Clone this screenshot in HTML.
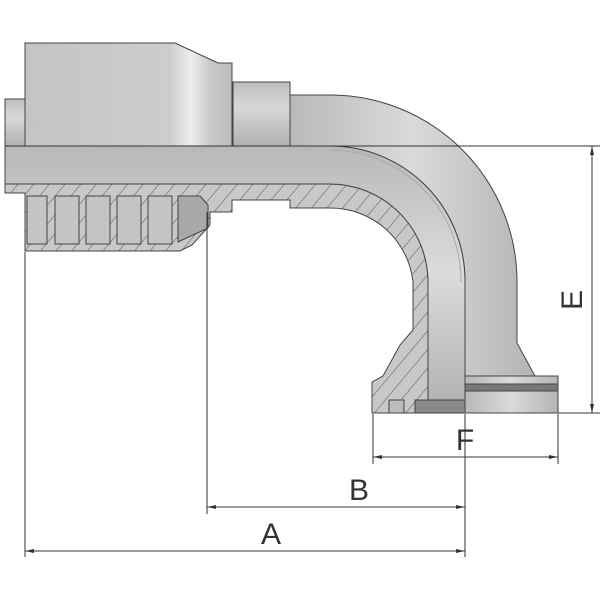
<!DOCTYPE html>
<html><head><meta charset="utf-8"><style>html,body{margin:0;padding:0;background:#fff}svg{display:block}</style></head>
<body>
<svg width="600" height="600" viewBox="0 0 600 600" xmlns="http://www.w3.org/2000/svg">
<defs>
<linearGradient id="gv" x1="0" y1="0" x2="0" y2="1">
<stop offset="0" stop-color="#bdbdbd"/><stop offset="0.4" stop-color="#d8d8d8"/><stop offset="1" stop-color="#b0b0b0"/></linearGradient>
<linearGradient id="gh" x1="0" y1="0" x2="1" y2="0">
<stop offset="0" stop-color="#c4c4c4"/><stop offset="0.7" stop-color="#cdcdcd"/><stop offset="0.8" stop-color="#eeeeee"/><stop offset="0.9" stop-color="#c8c8c8"/><stop offset="1" stop-color="#bcbcbc"/></linearGradient>
<linearGradient id="gb" x1="0" y1="0" x2="0" y2="1">
<stop offset="0" stop-color="#b8b8b8"/><stop offset="0.5" stop-color="#dcdcdc"/><stop offset="1" stop-color="#b4b4b4"/></linearGradient>
<linearGradient id="gx" x1="0" y1="0" x2="1" y2="0">
<stop offset="0" stop-color="#b8b8b8"/><stop offset="0.5" stop-color="#dadada"/><stop offset="1" stop-color="#b4b4b4"/></linearGradient>
<pattern id="hatch" width="12" height="12" patternUnits="userSpaceOnUse" patternTransform="rotate(40)">
<rect width="12" height="12" fill="#c8c8c8"/><line x1="0" y1="0" x2="0" y2="12" stroke="#555" stroke-width="1"/></pattern>
</defs>
<g stroke="#444" stroke-width="1">
<!-- elbow upper/outer -->
<path d="M288,95 L330,95 A187,187 0 0 1 517,282 L517,343 L535,376 L465,376 L465,282 A135,135 0 0 0 330,146 L288,146 Z" fill="url(#gx)"/>
<!-- left nut -->
<rect x="5" y="99" width="20" height="47" fill="url(#gv)"/>
<!-- ferrule -->
<path d="M25,43 L175,43 L218,63 L232,63 L232,146 L25,146 Z" fill="url(#gh)"/>
<rect x="233" y="82" width="57" height="64" fill="url(#gv)"/>
<!-- hatched walls -->
<path d="M5,184 L330,184 A98,98 0 0 1 428,282 L428,413 L372,413 L372,382 L383,376 L400,345 L413,330 L413,282 A83,83 0 0 0 330,208 L290,208 L290,200 L232,200 L232,212 L210,212 L210,225 L192,245 L180,251 L25,251 L25,193 L5,193 Z" fill="url(#hatch)"/>
<!-- bore -->
<path d="M5,146 L330,146 A135,135 0 0 1 465,282 L465,400 L428,400 L428,282 A98,98 0 0 0 330,184 L5,184 Z" fill="url(#gb)"/>
<path d="M330,150 A131,131 0 0 1 461,282" fill="none" stroke="#aaa"/>
<rect x="415" y="400" width="50" height="13" fill="#8a8a8a"/>
<!-- flange -->
<rect x="465" y="376" width="93" height="37" fill="url(#gx)"/>
<rect x="465" y="384" width="93" height="7" fill="#777"/>
<rect x="389" y="400" width="15" height="13" fill="#bdbdbd"/>
<!-- insert ridges -->
<g fill="#c4c4c4">
<rect x="27" y="196" width="20" height="48"/><rect x="55" y="196" width="24" height="48"/><rect x="86" y="196" width="24" height="48"/><rect x="117" y="196" width="24" height="48"/><rect x="148" y="196" width="24" height="48"/>
<path d="M178,196 L200,196 L208,205 L208,228 L178,242 Z" fill="#a8a8a8"/>
</g>
</g>
<!-- dimension lines -->
<g stroke="#333" stroke-width="1" fill="none">
<line x1="5" y1="146" x2="600" y2="146"/>
<line x1="25" y1="252" x2="25" y2="557"/>
<line x1="207" y1="212" x2="207" y2="514"/>
<line x1="465" y1="414" x2="465" y2="557"/>
<line x1="373" y1="414" x2="373" y2="464"/>
<line x1="558" y1="414" x2="558" y2="464"/>
<line x1="558" y1="413" x2="600" y2="413"/>
<line x1="592" y1="146" x2="592" y2="413"/>
<line x1="25" y1="551" x2="465" y2="551"/>
<line x1="207" y1="507" x2="465" y2="507"/>
<line x1="373" y1="457" x2="558" y2="457"/>
</g>
<g fill="#333">
<path d="M25,551 l9,-2 v4z M465,551 l-9,-2 v4z M207,507 l9,-2 v4z M465,507 l-9,-2 v4z M373,457 l9,-2 v4z M558,457 l-9,-2 v4z M592,146 l-2,9 h4z M592,413 l-2,-9 h4z"/>
</g>
<g font-family="Liberation Sans, sans-serif" font-size="30" fill="#333" text-anchor="middle">
<text x="271" y="544">A</text>
<text x="359" y="500">B</text>
<text x="465" y="450">F</text>
<text transform="translate(582,300) rotate(-90)">E</text>
</g>
</svg>
</body></html>
